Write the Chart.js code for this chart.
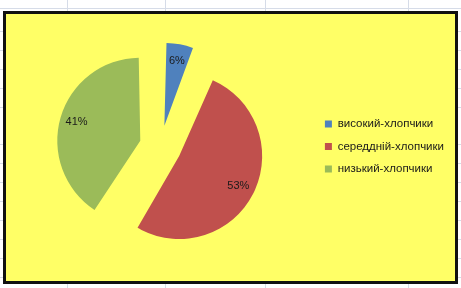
<!DOCTYPE html>
<html>
<head>
<meta charset="utf-8">
<script src="https://cdn.jsdelivr.net/npm/chart.js@4/dist/chart.umd.min.js"></script>
<style>
  html, body { margin: 0; padding: 0; }
  body {
    width: 461px; height: 288px; position: relative; overflow: hidden;
    background: #fff;
    background-image: repeating-linear-gradient(to bottom, transparent 0, transparent 18px, #d6dce8 18px, #d6dce8 18.9px);
    background-position: 0 13px;
  }
  .col { position: absolute; top: 0; bottom: 0; width: 1px; background: #d6dce8; }
  #box {
    position: absolute; left: 3px; top: 11px; width: 449px; height: 267px;
    background: #ffff66; border: 3px solid #111;
  }
  #wrap { position: absolute; left: 0; top: 0; width: 461px; height: 288px; }
</style>
</head>
<body>
<div class="col" style="left:67px"></div>
<div class="col" style="left:165px"></div>
<div class="col" style="left:265px"></div>
<div class="col" style="left:408px"></div>
<div id="box"></div>
<div id="wrap"><canvas id="pie" width="461" height="288"></canvas></div>
<script>
const categories = ['високий-хлопчики', 'середдній-хлопчики', 'низький-хлопчики'];
const shares = [6, 53, 41];
const colors = ['#4f81bd', '#c0504d', '#9bbb59'];

const R = 83;        // pie radius
const EXPLODE = 21;  // how far every slice is pulled out

// Chart.js translates an arc by offset/4 and also grows its radius by
// offset/4 * (1 - sin(min(PI, circumference))); undo the growth so all
// slices keep the same radius
const keepRadius = {
  id: 'keepRadius',
  beforeDatasetsDraw(chart) {
    chart.getDatasetMeta(0).data.forEach(function (arc) {
      const grow = (arc.options.offset / 4) * (1 - Math.sin(Math.min(Math.PI, arc.circumference)));
      arc.outerRadius = R - grow;
    });
  }
};

// percent labels inside each slice
const sliceLabels = {
  id: 'sliceLabels',
  afterDatasetsDraw(chart) {
    const ctx = chart.ctx;
    const meta = chart.getDatasetMeta(0);
    ctx.save();
    ctx.font = '11px "Liberation Sans", Arial, sans-serif';
    ctx.fillStyle = '#1a1a1a';
    ctx.textAlign = 'center';
    ctx.textBaseline = 'middle';
    meta.data.forEach(function (arc, i) {
      const mid = (arc.startAngle + arc.endAngle) / 2;
      const d = EXPLODE + R * 0.8;
      ctx.fillText(shares[i] + '%', arc.x + Math.cos(mid) * d, arc.y + Math.sin(mid) * d);
    });
    ctx.restore();
  }
};

new Chart(document.getElementById('pie'), {
  type: 'pie',
  data: {
    labels: categories,
    datasets: [{
      data: shares,
      backgroundColor: colors,
      borderWidth: 0,
      offset: EXPLODE * 4,
      radius: R
    }]
  },
  options: {
    responsive: false,
    animation: false,
    layout: { padding: { left: 7, right: 7, top: 20, bottom: 15 } },
    plugins: {
      legend: {
        position: 'right',
        labels: {
          boxWidth: 7,
          boxHeight: 7,
          padding: 11,
          color: '#1a1a1a',
          font: { family: '"Liberation Sans", Arial, sans-serif', size: 11.5 }
        }
      },
      tooltip: { enabled: false }
    }
  },
  plugins: [keepRadius, sliceLabels]
});
</script>
</body>
</html>
